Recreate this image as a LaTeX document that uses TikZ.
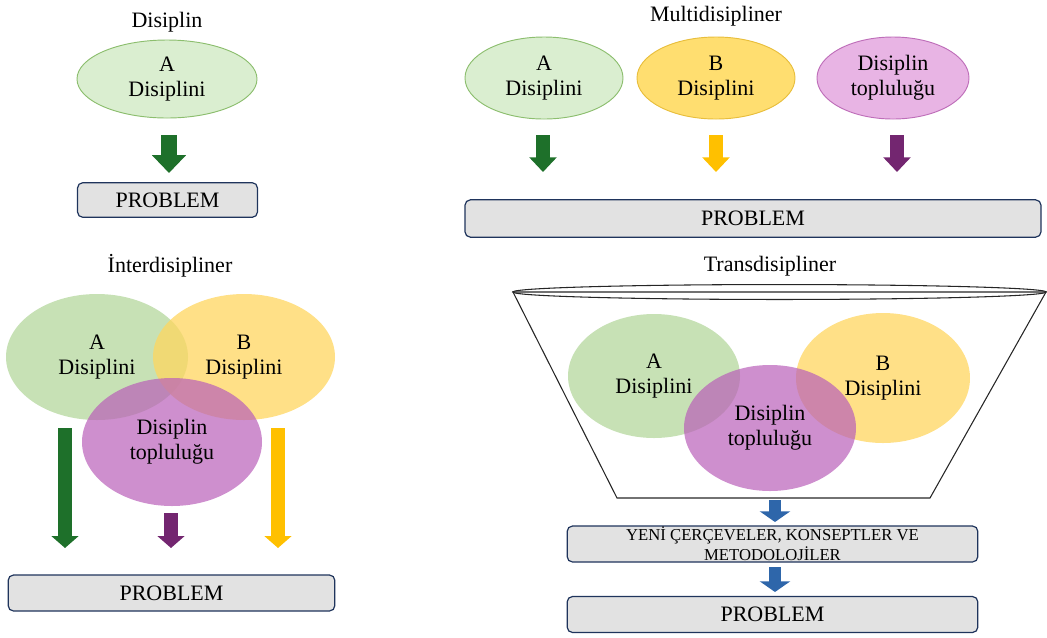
\documentclass[tikz,border=0pt]{standalone}
\usepackage{fontspec}
\setmainfont{Liberation Serif}
\usetikzlibrary{shapes.geometric}
\usetikzlibrary{arrows.meta}
\definecolor{topg}{RGB}{218,238,208}
\definecolor{topgl}{RGB}{140,190,110}
\definecolor{topy}{RGB}{255,222,112}
\definecolor{topyl}{RGB}{232,190,60}
\definecolor{topp}{RGB}{232,180,228}
\definecolor{toppl}{RGB}{190,110,185}
\definecolor{sg}{RGB}{169,209,142}
\definecolor{sy}{RGB}{255,214,95}
\definecolor{sp}{RGB}{185,95,185}
\definecolor{dgreen}{RGB}{30,112,42}
\definecolor{gold}{RGB}{255,192,0}
\definecolor{dpurple}{RGB}{115,38,112}
\definecolor{dblue}{RGB}{46,102,170}
\definecolor{navy}{RGB}{31,52,92}
\definecolor{boxg}{RGB}{226,226,226}

\begin{document}
\begin{tikzpicture}[
      x=.75pt, y=-.75pt,
      every node/.style={align=center, font=\fontsize{16.5}{19}\selectfont},
      disk/.style={ellipse, inner sep=0pt},
      tgreen/.style={fill=topg, draw=topgl, line width=.7pt},
      tyellow/.style={fill=topy, draw=topyl, line width=.7pt},
      tpink/.style={fill=topp, draw=toppl, line width=.7pt},
      sgreen/.style={fill=sg, fill opacity=.65, text opacity=1},
      syellow/.style={fill=sy, fill opacity=.75, text opacity=1},
      spurple/.style={fill=sp, fill opacity=.7, text opacity=1},
      box/.style={draw=navy, fill=boxg, line width=.9pt, rounded corners=4pt, inner sep=0pt},
      blk/.style n args={3}{line width=#1, -{Triangle[width=#2, length=#3]}},
      funnel/.style={draw=black!85, line width=.8pt}]

        \useasboundingbox (0,0) rectangle (1047,637);

        % Disiplin
        \node (tD) at (167,22) {Disiplin};
        \node[disk, tgreen, minimum width=135pt, minimum height=58.5pt] (dA) at (167,79) {A\\Disiplini};
        \node[box, minimum width=135pt, minimum height=26pt] (dP) at (167.5,200) {PROBLEM};
        \coordinate (dA1) at (169,135);
        \coordinate (dA2) at (169,173);
        \draw[blk={12pt}{25pt}{13.5pt}, dgreen] (dA1) -- (dA2);

        % Multidisipliner
        \node (tM) at (716,16) {Multidisipliner};
        \node[disk, tgreen, minimum width=118.5pt, minimum height=61.5pt] (mA) at (544,78) {A\\Disiplini};
        \node[disk, tyellow, minimum width=118.5pt, minimum height=61.5pt] (mB) at (716,78) {B\\Disiplini};
        \node[disk, tpink, minimum width=114pt, minimum height=61.5pt] (mC) at (893,78) {Disiplin\\topluluğu};
        \node[box, minimum width=432pt, minimum height=28pt] (mP) at (753,218.5) {PROBLEM};
        \foreach \n/\x/\c in {mA/543/dgreen, mB/716/gold, mC/897/dpurple}
          \draw[blk={10.5pt}{20pt}{11pt}, \c] (\x,135) coordinate (\n1) -- (\x,172) coordinate (\n2);

        % Interdisipliner
        \node (tI) at (170,266) {İnterdisipliner};
        \node[disk, sgreen, minimum width=136.5pt, minimum height=94.5pt] (iA) at (97,357) {A\\Disiplini};
        \node[disk, syellow, minimum width=136.5pt, minimum height=94.5pt] (iB) at (244,357) {B\\Disiplini};
        \node[disk, spurple, minimum width=135pt, minimum height=96pt] (iC) at (172,442) {Disiplin\\topluluğu};
        \node[box, minimum width=245pt, minimum height=27pt] (iP) at (171.5,593) {PROBLEM};
        \foreach \n/\x/\y/\c in {iA/65/428/dgreen, iC/171/513/dpurple, iB/278/428/gold}
          \draw[blk={10pt}{20pt}{9pt}, \c] (\x,\y) coordinate (\n1) -- (\x,548) coordinate (\n2);

        % Transdisipliner
        \node (tT) at (770,266) {Transdisipliner};
        \draw[funnel] (513,292) -- (1046,292) -- (930,498) -- (617,498) -- cycle;
        \draw[funnel] (779.5,292) ellipse [x radius=200pt, y radius=5.6pt];
        \node[disk, sgreen, minimum width=129pt, minimum height=93pt] (rA) at (654,376) {A\\Disiplini};
        \node[disk, syellow, minimum width=130.5pt, minimum height=97.5pt] (rB) at (883,378) {B\\Disiplini};
        \node[disk, spurple, minimum width=129pt, minimum height=94.5pt] (rC) at (770,428) {Disiplin\\topluluğu};
        \node[box, minimum width=308pt, minimum height=27pt,
              font=\fontsize{12.5}{15}\selectfont] (rY) at (772.5,544)
              {YENİ ÇERÇEVELER, KONSEPTLER VE\\METODOLOJİLER};
        \node[box, minimum width=308pt, minimum height=27pt] (rP) at (772.5,614.5) {PROBLEM};
        \coordinate (rC1) at (775,500);
        \coordinate (rC2) at (775,522);
        \coordinate (rY1) at (775,567);
        \coordinate (rY2) at (775,592);
        \draw[blk={9.5pt}{22.5pt}{8pt}, dblue] (rC1) -- (rC2);
        \draw[blk={9.5pt}{22.5pt}{8pt}, dblue] (rY1) -- (rY2);

      \end{tikzpicture}
\end{document}
